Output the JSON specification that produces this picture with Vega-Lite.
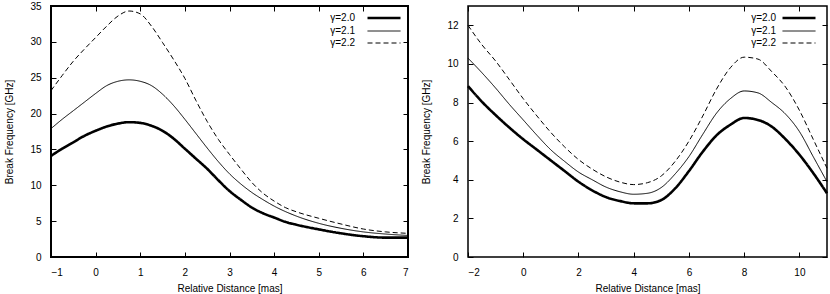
{
  "$schema": "https://vega.github.io/schema/vega-lite/v6.json",
  "padding": {"top": 0, "left": 3, "right": 2, "bottom": 0},
  "spacing": 6,
  "config": {
    "font": "Liberation Sans",
    "axis": {
      "domain": false,
      "grid": false,
      "tickColor": "black",
      "tickSize": -5,
      "tickWidth": 1,
      "labelPadding": 15,
      "labelOverlap": false,
      "labelFontSize": 10,
      "labelColor": "black",
      "titleFontSize": 10,
      "titleFontWeight": "normal",
      "titleColor": "black"
    },
    "legend": {
      "labelFontSize": 10,
      "labelColor": "black",
      "symbolType": "M-3,0H3",
      "symbolStrokeColor": "black",
      "symbolSize": 121,
      "rowPadding": 1,
      "padding": 0,
      "labelAlign": "right",
      "labelOffset": -32
    }
  },
  "datasets": {
    "a": [
      {"x": -1, "y": 14.1, "g": "γ=2.0"}, {"x": -0.75, "y": 15.1, "g": "γ=2.0"}, {"x": -0.5, "y": 16.0, "g": "γ=2.0"}, {"x": -0.25, "y": 16.9, "g": "γ=2.0"}, {"x": 0, "y": 17.6, "g": "γ=2.0"}, {"x": 0.25, "y": 18.2, "g": "γ=2.0"}, {"x": 0.5, "y": 18.6, "g": "γ=2.0"}, {"x": 0.75, "y": 18.8, "g": "γ=2.0"}, {"x": 1, "y": 18.7, "g": "γ=2.0"}, {"x": 1.25, "y": 18.3, "g": "γ=2.0"}, {"x": 1.5, "y": 17.6, "g": "γ=2.0"}, {"x": 1.75, "y": 16.5, "g": "γ=2.0"}, {"x": 2, "y": 15.1, "g": "γ=2.0"}, {"x": 2.25, "y": 13.7, "g": "γ=2.0"}, {"x": 2.5, "y": 12.3, "g": "γ=2.0"}, {"x": 2.75, "y": 10.7, "g": "γ=2.0"}, {"x": 3, "y": 9.2, "g": "γ=2.0"}, {"x": 3.25, "y": 8.0, "g": "γ=2.0"}, {"x": 3.5, "y": 6.9, "g": "γ=2.0"}, {"x": 3.75, "y": 6.1, "g": "γ=2.0"}, {"x": 4, "y": 5.5, "g": "γ=2.0"}, {"x": 4.25, "y": 4.9, "g": "γ=2.0"}, {"x": 4.5, "y": 4.5, "g": "γ=2.0"}, {"x": 5, "y": 3.85, "g": "γ=2.0"}, {"x": 5.5, "y": 3.3, "g": "γ=2.0"}, {"x": 6, "y": 2.9, "g": "γ=2.0"}, {"x": 6.5, "y": 2.7, "g": "γ=2.0"}, {"x": 7, "y": 2.7, "g": "γ=2.0"},
      {"x": -1, "y": 17.9, "g": "γ=2.1"}, {"x": -0.75, "y": 19.2, "g": "γ=2.1"}, {"x": -0.5, "y": 20.4, "g": "γ=2.1"}, {"x": -0.25, "y": 21.6, "g": "γ=2.1"}, {"x": 0, "y": 22.8, "g": "γ=2.1"}, {"x": 0.25, "y": 23.9, "g": "γ=2.1"}, {"x": 0.5, "y": 24.5, "g": "γ=2.1"}, {"x": 0.75, "y": 24.7, "g": "γ=2.1"}, {"x": 1, "y": 24.5, "g": "γ=2.1"}, {"x": 1.25, "y": 23.9, "g": "γ=2.1"}, {"x": 1.5, "y": 22.7, "g": "γ=2.1"}, {"x": 1.75, "y": 21.1, "g": "γ=2.1"}, {"x": 2, "y": 19.2, "g": "γ=2.1"}, {"x": 2.25, "y": 17.2, "g": "γ=2.1"}, {"x": 2.5, "y": 15.2, "g": "γ=2.1"}, {"x": 2.75, "y": 13.3, "g": "γ=2.1"}, {"x": 3, "y": 11.6, "g": "γ=2.1"}, {"x": 3.25, "y": 10.2, "g": "γ=2.1"}, {"x": 3.5, "y": 9.0, "g": "γ=2.1"}, {"x": 3.75, "y": 8.0, "g": "γ=2.1"}, {"x": 4, "y": 7.1, "g": "γ=2.1"}, {"x": 4.5, "y": 5.7, "g": "γ=2.1"}, {"x": 5, "y": 4.7, "g": "γ=2.1"}, {"x": 5.5, "y": 4.0, "g": "γ=2.1"}, {"x": 6, "y": 3.5, "g": "γ=2.1"}, {"x": 6.5, "y": 3.2, "g": "γ=2.1"}, {"x": 7, "y": 3.0, "g": "γ=2.1"},
      {"x": -1, "y": 23.2, "g": "γ=2.2"}, {"x": -0.75, "y": 25.3, "g": "γ=2.2"}, {"x": -0.5, "y": 27.3, "g": "γ=2.2"}, {"x": -0.25, "y": 29.0, "g": "γ=2.2"}, {"x": 0, "y": 30.6, "g": "γ=2.2"}, {"x": 0.25, "y": 32.2, "g": "γ=2.2"}, {"x": 0.5, "y": 33.6, "g": "γ=2.2"}, {"x": 0.75, "y": 34.3, "g": "γ=2.2"}, {"x": 1, "y": 33.9, "g": "γ=2.2"}, {"x": 1.25, "y": 32.2, "g": "γ=2.2"}, {"x": 1.5, "y": 29.9, "g": "γ=2.2"}, {"x": 1.75, "y": 27.5, "g": "γ=2.2"}, {"x": 2, "y": 24.9, "g": "γ=2.2"}, {"x": 2.25, "y": 21.8, "g": "γ=2.2"}, {"x": 2.5, "y": 18.9, "g": "γ=2.2"}, {"x": 2.75, "y": 16.4, "g": "γ=2.2"}, {"x": 3, "y": 14.3, "g": "γ=2.2"}, {"x": 3.25, "y": 12.3, "g": "γ=2.2"}, {"x": 3.5, "y": 10.4, "g": "γ=2.2"}, {"x": 3.75, "y": 8.9, "g": "γ=2.2"}, {"x": 4, "y": 7.8, "g": "γ=2.2"}, {"x": 4.25, "y": 6.9, "g": "γ=2.2"}, {"x": 4.5, "y": 6.3, "g": "γ=2.2"}, {"x": 5, "y": 5.4, "g": "γ=2.2"}, {"x": 5.5, "y": 4.6, "g": "γ=2.2"}, {"x": 6, "y": 3.9, "g": "γ=2.2"}, {"x": 6.5, "y": 3.5, "g": "γ=2.2"}, {"x": 7, "y": 3.3, "g": "γ=2.2"}
    ],
    "b": [
      {"x": -2, "y": 8.85, "g": "γ=2.0"}, {"x": -1.5, "y": 8.05, "g": "γ=2.0"}, {"x": -1, "y": 7.35, "g": "γ=2.0"}, {"x": -0.5, "y": 6.7, "g": "γ=2.0"}, {"x": 0, "y": 6.1, "g": "γ=2.0"}, {"x": 0.5, "y": 5.55, "g": "γ=2.0"}, {"x": 1, "y": 5.0, "g": "γ=2.0"}, {"x": 1.5, "y": 4.45, "g": "γ=2.0"}, {"x": 2, "y": 3.9, "g": "γ=2.0"}, {"x": 2.5, "y": 3.45, "g": "γ=2.0"}, {"x": 3, "y": 3.1, "g": "γ=2.0"}, {"x": 3.5, "y": 2.9, "g": "γ=2.0"}, {"x": 4, "y": 2.78, "g": "γ=2.0"}, {"x": 4.5, "y": 2.78, "g": "γ=2.0"}, {"x": 5, "y": 2.95, "g": "γ=2.0"}, {"x": 5.5, "y": 3.55, "g": "γ=2.0"}, {"x": 6, "y": 4.45, "g": "γ=2.0"}, {"x": 6.5, "y": 5.45, "g": "γ=2.0"}, {"x": 7, "y": 6.3, "g": "γ=2.0"}, {"x": 7.5, "y": 6.85, "g": "γ=2.0"}, {"x": 8, "y": 7.2, "g": "γ=2.0"}, {"x": 8.5, "y": 7.1, "g": "γ=2.0"}, {"x": 9, "y": 6.75, "g": "γ=2.0"}, {"x": 9.5, "y": 6.1, "g": "γ=2.0"}, {"x": 10, "y": 5.3, "g": "γ=2.0"}, {"x": 10.5, "y": 4.35, "g": "γ=2.0"}, {"x": 11, "y": 3.3, "g": "γ=2.0"},
      {"x": -2, "y": 10.3, "g": "γ=2.1"}, {"x": -1.5, "y": 9.55, "g": "γ=2.1"}, {"x": -1, "y": 8.75, "g": "γ=2.1"}, {"x": -0.5, "y": 7.9, "g": "γ=2.1"}, {"x": 0, "y": 7.1, "g": "γ=2.1"}, {"x": 0.5, "y": 6.3, "g": "γ=2.1"}, {"x": 1, "y": 5.55, "g": "γ=2.1"}, {"x": 1.5, "y": 4.95, "g": "γ=2.1"}, {"x": 2, "y": 4.4, "g": "γ=2.1"}, {"x": 2.5, "y": 4.0, "g": "γ=2.1"}, {"x": 3, "y": 3.62, "g": "γ=2.1"}, {"x": 3.5, "y": 3.38, "g": "γ=2.1"}, {"x": 4, "y": 3.25, "g": "γ=2.1"}, {"x": 4.5, "y": 3.3, "g": "γ=2.1"}, {"x": 5, "y": 3.6, "g": "γ=2.1"}, {"x": 5.5, "y": 4.3, "g": "γ=2.1"}, {"x": 6, "y": 5.2, "g": "γ=2.1"}, {"x": 6.5, "y": 6.35, "g": "γ=2.1"}, {"x": 7, "y": 7.45, "g": "γ=2.1"}, {"x": 7.5, "y": 8.2, "g": "γ=2.1"}, {"x": 8, "y": 8.6, "g": "γ=2.1"}, {"x": 8.5, "y": 8.5, "g": "γ=2.1"}, {"x": 9, "y": 8.0, "g": "γ=2.1"}, {"x": 9.5, "y": 7.4, "g": "γ=2.1"}, {"x": 10, "y": 6.5, "g": "γ=2.1"}, {"x": 10.5, "y": 5.2, "g": "γ=2.1"}, {"x": 11, "y": 3.9, "g": "γ=2.1"},
      {"x": -2, "y": 12.0, "g": "γ=2.2"}, {"x": -1.5, "y": 11.0, "g": "γ=2.2"}, {"x": -1, "y": 10.15, "g": "γ=2.2"}, {"x": -0.5, "y": 9.18, "g": "γ=2.2"}, {"x": 0, "y": 8.2, "g": "γ=2.2"}, {"x": 0.5, "y": 7.3, "g": "γ=2.2"}, {"x": 1, "y": 6.45, "g": "γ=2.2"}, {"x": 1.5, "y": 5.7, "g": "γ=2.2"}, {"x": 2, "y": 5.05, "g": "γ=2.2"}, {"x": 2.5, "y": 4.55, "g": "γ=2.2"}, {"x": 3, "y": 4.15, "g": "γ=2.2"}, {"x": 3.5, "y": 3.88, "g": "γ=2.2"}, {"x": 4, "y": 3.75, "g": "γ=2.2"}, {"x": 4.5, "y": 3.85, "g": "γ=2.2"}, {"x": 5, "y": 4.2, "g": "γ=2.2"}, {"x": 5.5, "y": 4.95, "g": "γ=2.2"}, {"x": 6, "y": 6.0, "g": "γ=2.2"}, {"x": 6.5, "y": 7.3, "g": "γ=2.2"}, {"x": 7, "y": 8.7, "g": "γ=2.2"}, {"x": 7.5, "y": 9.8, "g": "γ=2.2"}, {"x": 8, "y": 10.35, "g": "γ=2.2"}, {"x": 8.5, "y": 10.25, "g": "γ=2.2"}, {"x": 9, "y": 9.6, "g": "γ=2.2"}, {"x": 9.5, "y": 8.8, "g": "γ=2.2"}, {"x": 10, "y": 7.6, "g": "γ=2.2"}, {"x": 10.5, "y": 6.1, "g": "γ=2.2"}, {"x": 11, "y": 4.6, "g": "γ=2.2"}
    ]
  },
  "hconcat": [
    {
      "width": 357,
      "height": 251,
      "view": {"stroke": "black", "strokeWidth": 2},
      "layer": [
        {
          "data": {"name": "a"},
          "mark": {"type": "line", "color": "black", "interpolate": "monotone"},
          "encoding": {
            "x": {"field": "x", "type": "quantitative", "title": "Relative Distance [mas]", "scale": {"domain": [-1, 7], "nice": false, "zero": false}, "axis": {"values": [-1, 0, 1, 2, 3, 4, 5, 6, 7], "titlePadding": 6}},
            "y": {"field": "y", "type": "quantitative", "title": "Break Frequency [GHz]", "scale": {"domain": [0, 35], "nice": false}, "axis": {"values": [0, 5, 10, 15, 20, 25, 30, 35], "titlePadding": 15}},
            "detail": {"field": "g"},
            "strokeWidth": {"field": "g", "type": "nominal", "scale": {"type": "ordinal", "domain": ["γ=2.0", "γ=2.1", "γ=2.2"], "range": [2.6, 1, 1]}, "legend": {"title": null, "orient": "none", "legendX": 326, "legendY": 5, "labelOffset": -36}},
            "strokeDash": {"field": "g", "type": "nominal", "scale": {"type": "ordinal", "domain": ["γ=2.0", "γ=2.1", "γ=2.2"], "range": [[1, 0], [1, 0], [5, 3]]}, "legend": {"title": null, "orient": "none", "legendX": 326, "legendY": 5, "labelOffset": -36}}
          }
        },
        {
          "mark": {"type": "text", "text": "(a)", "align": "left", "baseline": "middle", "fontSize": 11, "color": "black"},
          "encoding": {
            "x": {"datum": -0.87, "axis": {"orient": "top", "values": [-1, 0, 1, 2, 3, 4, 5, 6, 7], "labels": false, "title": null}},
            "y": {"datum": 33.6, "axis": {"orient": "right", "values": [0, 5, 10, 15, 20, 25, 30, 35], "labels": false, "title": null}}
          }
        }
      ],
      "resolve": {"axis": {"x": "independent", "y": "independent"}}
    },
    {
      "width": 359,
      "height": 251,
      "view": {"stroke": "black", "strokeWidth": 1.5},
      "layer": [
        {
          "data": {"name": "b"},
          "mark": {"type": "line", "color": "black", "interpolate": "monotone"},
          "encoding": {
            "x": {"field": "x", "type": "quantitative", "title": "Relative Distance [mas]", "scale": {"domain": [-2, 11], "nice": false, "zero": false}, "axis": {"values": [-2, 0, 2, 4, 6, 8, 10], "titlePadding": 6}},
            "y": {"field": "y", "type": "quantitative", "title": "Break Frequency [GHz]", "scale": {"domain": [0, 13], "nice": false}, "axis": {"values": [0, 2, 4, 6, 8, 10, 12], "titlePadding": 15}},
            "detail": {"field": "g"},
            "strokeWidth": {"field": "g", "type": "nominal", "scale": {"type": "ordinal", "domain": ["γ=2.0", "γ=2.1", "γ=2.2"], "range": [2.6, 1, 1]}, "legend": {"title": null, "orient": "none", "legendX": 324, "legendY": 5, "labelOffset": -30}},
            "strokeDash": {"field": "g", "type": "nominal", "scale": {"type": "ordinal", "domain": ["γ=2.0", "γ=2.1", "γ=2.2"], "range": [[1, 0], [1, 0], [5, 3]]}, "legend": {"title": null, "orient": "none", "legendX": 324, "legendY": 5, "labelOffset": -30}}
          }
        },
        {
          "mark": {"type": "text", "text": "(b)", "align": "left", "baseline": "middle", "fontSize": 11, "color": "black"},
          "encoding": {
            "x": {"datum": -1.62, "axis": {"orient": "top", "values": [-2, 0, 2, 4, 6, 8, 10], "labels": false, "title": null}},
            "y": {"datum": 12.5, "axis": {"orient": "right", "values": [0, 2, 4, 6, 8, 10, 12], "labels": false, "title": null}}
          }
        }
      ],
      "resolve": {"axis": {"x": "independent", "y": "independent"}}
    }
  ],
  "resolve": {"scale": {"x": "independent", "y": "independent", "strokeWidth": "independent", "strokeDash": "independent"}, "legend": {"strokeWidth": "independent", "strokeDash": "independent"}}
}
